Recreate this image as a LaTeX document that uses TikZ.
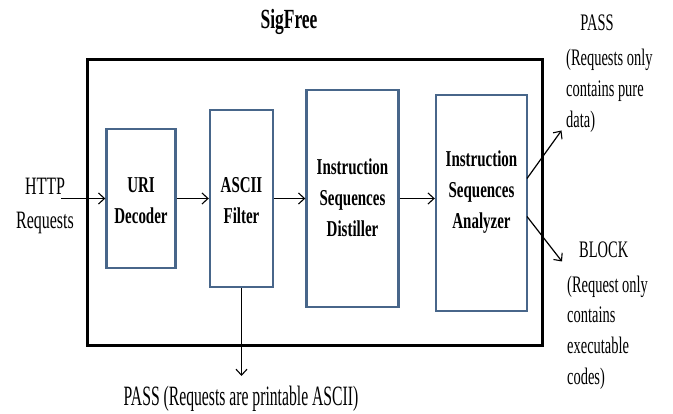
\documentclass[tikz,border=0pt]{standalone}
\usepackage{fontspec}
\setmainfont{Liberation Serif}[FakeStretch=0.66]
\newfontfamily\titlefont{Liberation Serif}[FakeStretch=0.63]
\newfontfamily\httpfont{Liberation Serif}[FakeStretch=0.64]
\newfontfamily\sidefont{Liberation Serif}[FakeStretch=0.61]
\newfontfamily\bottomfont{Liberation Serif}[FakeStretch=0.56]
\usetikzlibrary{arrows.meta,calc}
\definecolor{boxline}{RGB}{72,102,138}
\tikzset{
  stage/.style={draw=boxline, line width=2.4pt, fill=white, inner sep=0pt},
  stagetext/.style={align=center, inner sep=0pt, anchor=base,
    font=\bfseries\fontsize{22.7}{31}\selectfont},
  flow/.style={draw=black, line width=1.2pt, -{Straight Barb[length=6pt,width=11pt,line width=1.1pt]}},
  sidenote/.style={inner sep=0pt, align=left, anchor=base west,
    font=\sidefont\fontsize{23.7}{30.8}\selectfont},
}
\begin{document}
\begin{tikzpicture}[x=1pt,y=-1pt]
\useasboundingbox (0,0) rectangle (673,414);

% title and system frame
\node[inner sep=0pt, anchor=base, font=\titlefont\bfseries\fontsize{27.7}{30}\selectfont] (title) at (289,28.3) {SigFree};
\draw[line width=3pt] (87,60) rectangle (542,346);

% processing stages (frames, then their labels)
\node[stage, minimum width=69pt, minimum height=139pt] (uri) at (141,198.5) {};
\node[stage, minimum width=63pt, minimum height=177pt] (ascii) at (241.5,198.5) {};
\node[stage, minimum width=92pt, minimum height=217pt] (dist) at (352.5,198.5) {};
\node[stage, minimum width=91pt, minimum height=216pt] (anl) at (481.5,203) {};
\node[stagetext] (uritext) at (141,224) {URI\\Decoder};
\node[stagetext] (asciitext) at (241.5,224) {ASCII\\Filter};
\node[stagetext] (disttext) at (352.5,237) {Instruction\\Sequences\\Distiller};
\node[stagetext] (anltext) at (481.5,228.5) {Instruction\\Sequences\\Analyzer};

% input
\node[inner sep=0pt, align=center, anchor=base, font=\httpfont\fontsize{25}{34}\selectfont] (http) at (45,229) {HTTP\\Requests};
\coordinate (httpout) at (61,198.5);

% connector ends
\coordinate (asciiend) at (241.5,376);
\coordinate (anlup) at (527,178.5);
\coordinate (anldown) at (527,216.5);
\coordinate (passend) at (561.5,130.5);
\coordinate (blockend) at (562,261.5);

\draw[flow] (httpout) -- (httpout -| uri.west);
\draw[flow] (uri.east |- httpout) -- (httpout -| ascii.west);
\draw[flow] (ascii.east |- httpout) -- (httpout -| dist.west);
\draw[flow] (dist.east |- httpout) -- (httpout -| anl.west);
\draw[flow] (ascii.south) -- (asciiend);
\draw[flow] (anlup) -- (passend);
\draw[flow] (anldown) -- (blockend);

% output labels
\node[sidenote, anchor=base] (passtop) at (597,30.7) {PASS};
\node[sidenote] (passnote) at (566,127.5) {(Requests only\\contains pure\\data)};
\node[sidenote, anchor=base west] (blocktop) at (579,258) {BLOCK};
\node[sidenote] (blocknote) at (567,384.5) {(Request only\\contains\\executable\\codes)};
\node[inner sep=0pt, anchor=base, font=\bottomfont\fontsize{28}{30}\selectfont] (asciinote) at (241,406) {PASS (Requests are printable ASCII)};
\end{tikzpicture}
\end{document}
